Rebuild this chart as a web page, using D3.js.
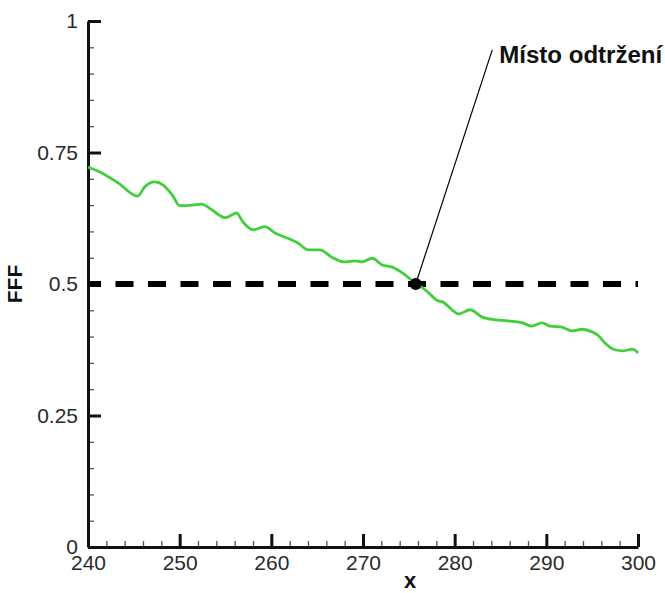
<!DOCTYPE html>
<html>
<head>
<meta charset="utf-8">
<script src="https://cdn.jsdelivr.net/npm/d3@7"></script>
<style>
  body { margin: 0; background: #fff; }
  svg { display: block; font-family: "Liberation Sans", Arial, sans-serif; }
</style>
</head>
<body>
<svg id="chart" width="665" height="593"></svg>
<script>
// values
var xValues = [240, 241.3, 243.3, 245.4, 246.2, 247.3, 248.2, 249.2, 250.0, 251.4,
               252.4, 253.5, 255.0, 256.2, 256.9, 258.0, 259.3, 260.4, 261.8, 262.9,
               264.0, 265.3, 266.6, 268.0, 269.1, 269.9, 271.0, 272.1, 273.2, 274.3,
               275.7, 276.8, 278.2, 278.7, 279.7, 280.4, 281.7, 283.0, 284.4, 285.8,
               287.4, 288.4, 289.5, 290.4, 291.7, 292.8, 293.9, 295.0, 295.6, 296.4,
               297.3, 298.4, 299.4, 300.0]
var fffValues = [0.722, 0.713, 0.692, 0.667, 0.685, 0.694, 0.688, 0.669, 0.649, 0.650,
                 0.652, 0.641, 0.626, 0.635, 0.618, 0.603, 0.609, 0.597, 0.587, 0.578,
                 0.565, 0.565, 0.551, 0.542, 0.544, 0.542, 0.549, 0.536, 0.532, 0.521,
                 0.502, 0.489, 0.468, 0.466, 0.451, 0.443, 0.451, 0.437, 0.432, 0.430,
                 0.426, 0.420, 0.426, 0.420, 0.418, 0.411, 0.414, 0.409, 0.403, 0.388,
                 0.376, 0.373, 0.376, 0.369]

var thresholdLine = [[240, 0.5], [300, 0.5]]
var separationPoint = [275.75, 0.5]
var labelAnchor = [284.1, 0.945]
var labelText = 'Místo odtržení'

var xTicks = [240, 250, 260, 270, 280, 290, 300]
var xMinorTicks = d3.range(240, 300.1, 2).filter(function(v){ return v % 10 !== 0 })
var yTicks = [0, 0.25, 0.5, 0.75, 1]
var yTickLabels = ['0', '0.25', '0.5', '0.75', '1']
var yMinorTicks = d3.range(0, 1.001, 0.05).filter(function(v){ return Math.abs(v * 4 - Math.round(v * 4)) > 1e-6 })

var svg = d3.select('#chart')

var x = d3.scaleLinear().domain([240, 300]).range([88, 638])
var y = d3.scaleLinear().domain([0, 1]).range([547, 21])

// minor ticks
svg.append('g')
    .attr('transform', 'translate(0,' + y(0) + ')')
    .call(d3.axisBottom(x).tickValues(xMinorTicks).tickSize(-6).tickFormat(''))
    .call(function(g){
        g.select('.domain').remove()
        g.selectAll('line').attr('stroke', '#555').attr('stroke-width', 1.3)
    })
svg.append('g')
    .attr('transform', 'translate(' + x(240) + ',0)')
    .call(d3.axisLeft(y).tickValues(yMinorTicks).tickSize(-6).tickFormat(''))
    .call(function(g){
        g.select('.domain').remove()
        g.selectAll('line').attr('stroke', '#555').attr('stroke-width', 1.3)
    })

// major axes
var xAxis = svg.append('g')
    .attr('transform', 'translate(0,' + y(0) + ')')
    .call(d3.axisBottom(x).tickValues(xTicks).tickSize(-13).tickSizeOuter(0).tickPadding(8))
var yAxis = svg.append('g')
    .attr('transform', 'translate(' + x(240) + ',0)')
    .call(d3.axisLeft(y).tickValues(yTicks).tickSize(-13).tickSizeOuter(0).tickPadding(10)
        .tickFormat(function(d, i){ return yTickLabels[i] }))

;[xAxis, yAxis].forEach(function(g){
    g.select('.domain').attr('stroke', '#111').attr('stroke-width', 3)
    g.selectAll('.tick line').attr('stroke', '#111').attr('stroke-width', 3)
    g.selectAll('.tick text')
        .attr('fill', '#2a2a2a')
        .style('font-size', '21px')
        .style('font-family', '"Liberation Sans", Arial, sans-serif')
})

// dashed threshold line
var line = d3.line()
    .x(function(d){ return x(d[0]) })
    .y(function(d){ return y(d[1]) })

svg.append('path')
    .datum(thresholdLine)
    .attr('d', line)
    .attr('fill', 'none')
    .attr('stroke', '#000')
    .attr('stroke-width', 6)
    .attr('stroke-dasharray', '18,14.5')
    .attr('stroke-dashoffset', 5)

// FFF curve
var curve = d3.line()
    .x(function(d, i){ return x(xValues[i]) })
    .y(function(d){ return y(d) })
    .curve(d3.curveMonotoneX)

svg.append('path')
    .datum(fffValues)
    .attr('d', curve)
    .attr('fill', 'none')
    .attr('stroke', '#3fcf3a')
    .attr('stroke-width', 2.8)

// annotation
svg.append('line')
    .attr('x1', x(separationPoint[0]))
    .attr('y1', y(separationPoint[1]))
    .attr('x2', x(labelAnchor[0]))
    .attr('y2', y(labelAnchor[1]))
    .attr('stroke', '#000')
    .attr('stroke-width', 1.2)

svg.append('circle')
    .attr('cx', x(separationPoint[0]))
    .attr('cy', y(separationPoint[1]))
    .attr('r', 6)
    .attr('fill', '#000')

svg.append('text')
    .attr('x', x(labelAnchor[0]) + 7)
    .attr('y', y(labelAnchor[1]) + 13)
    .attr('font-size', 23)
    .attr('font-weight', 'bold')
    .attr('fill', '#111')
    .attr('textLength', 163)
    .attr('lengthAdjust', 'spacingAndGlyphs')
    .text(labelText)

// axis titles
svg.append('text')
    .attr('x', 410)
    .attr('y', 588)
    .attr('text-anchor', 'middle')
    .attr('font-size', 22)
    .attr('font-weight', 'bold')
    .attr('fill', '#111')
    .text('x')

svg.append('text')
    .attr('transform', 'translate(22,284) rotate(-90)')
    .attr('text-anchor', 'middle')
    .attr('font-size', 21)
    .attr('font-weight', 'bold')
    .attr('fill', '#111')
    .text('FFF')
</script>
</body>
</html>
